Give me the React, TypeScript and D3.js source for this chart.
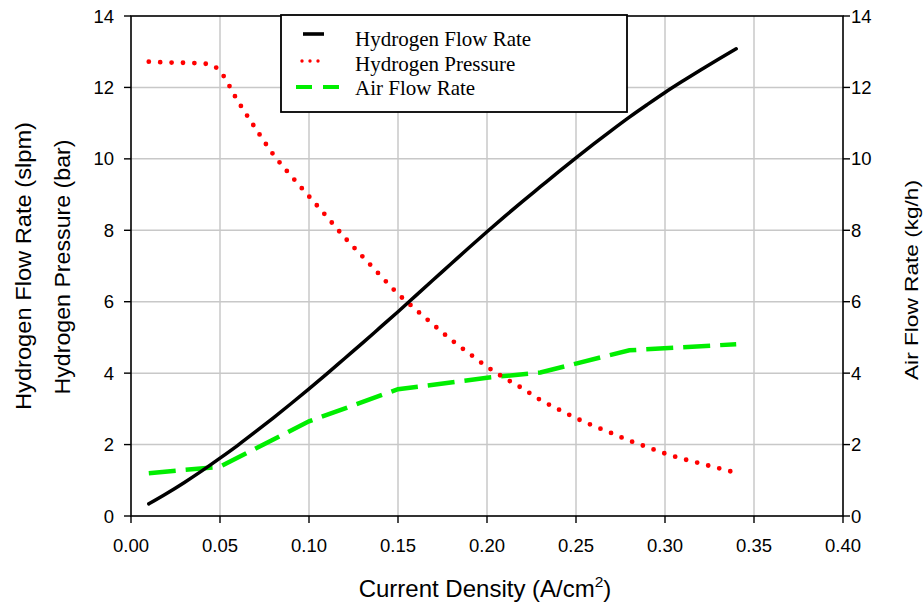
import React from "react";
import * as d3 from "d3";

const xTicks = [0, 0.05, 0.1, 0.15, 0.2, 0.25, 0.3, 0.35, 0.4];
const yTicks = [0, 2, 4, 6, 8, 10, 12, 14];

const h2FlowX = [0.01,0.02,0.03,0.04,0.05,0.06,0.07,0.08,0.09,0.10,0.11,0.12,0.13,0.14,0.15,0.16,0.17,0.18,0.19,0.20,0.21,0.22,0.23,0.24,0.25,0.26,0.27,0.28,0.29,0.30,0.31,0.32,0.33,0.34];
const h2FlowY = [0.34,0.63,0.94,1.27,1.62,1.98,2.36,2.75,3.15,3.56,3.98,4.41,4.84,5.28,5.72,6.17,6.62,7.07,7.52,7.96,8.39,8.81,9.22,9.63,10.03,10.42,10.8,11.17,11.52,11.86,12.18,12.49,12.79,13.08];

const h2PressX = [0.01,0.02,0.03,0.04,0.045,0.05,0.06,0.07,0.08,0.09,0.10,0.11,0.12,0.13,0.14,0.15,0.16,0.17,0.18,0.19,0.20,0.21,0.22,0.23,0.24,0.25,0.26,0.27,0.28,0.29,0.30,0.31,0.32,0.33,0.34];
const h2PressY = [12.72,12.7,12.69,12.67,12.64,12.45,11.62,10.85,10.12,9.52,8.95,8.38,7.8,7.27,6.74,6.22,5.78,5.35,4.93,4.55,4.18,3.86,3.57,3.25,2.99,2.74,2.52,2.32,2.11,1.93,1.75,1.6,1.47,1.34,1.21];

const airFlowX = [0.01, 0.05, 0.10, 0.15, 0.20, 0.23, 0.28, 0.34];
const airFlowY = [1.2, 1.38, 2.65, 3.55, 3.87, 4.02, 4.64, 4.81];

const legendLabels = ["Hydrogen Flow Rate", "Hydrogen Pressure", "Air Flow Rate"];

export default function App() {
  const W = 923, H = 604;
  const L = 131, R = 843, T = 16, B = 516;
  const x = d3.scaleLinear().domain([0, 0.4]).range([L, R]);
  const y = d3.scaleLinear().domain([0, 14]).range([B, T]);
  const y2 = d3.scaleLinear().domain([0, 14]).range([B, T]);

  const line = (xs: number[], ys: number[], sc: any, curve: any = d3.curveLinear) =>
    d3.line<number>().x((_, i) => x(xs[i])).y((d) => sc(d)).curve(curve)(ys) || "";

  const sans = "'Liberation Sans', Arial, sans-serif";
  const serif = "'Liberation Serif', 'Times New Roman', serif";

  return (
    <svg width={W} height={H} style={{ position: "absolute", left: 0, top: 0, background: "#fff" }}>
      <rect x={0} y={0} width={W} height={H} fill="#fff" />
      {/* grid */}
      {xTicks.slice(1, -1).map((t) => (
        <line key={"gx" + t} x1={x(t)} x2={x(t)} y1={T} y2={B} stroke="#c8c8c8" strokeWidth={1.5} />
      ))}
      {yTicks.slice(1, -1).map((t) => (
        <line key={"gy" + t} x1={L} x2={R} y1={y(t)} y2={y(t)} stroke="#c8c8c8" strokeWidth={1.5} />
      ))}
      {/* frame */}
      <rect x={L} y={T} width={R - L} height={B - T} fill="none" stroke="#000" strokeWidth={1.6} />
      {/* x ticks */}
      {xTicks.map((t) => (
        <g key={"xt" + t}>
          <line x1={x(t)} x2={x(t)} y1={B} y2={B + 7} stroke="#000" strokeWidth={1.4} />
          <text x={x(t)} y={552} textAnchor="middle" fontFamily={sans} fontSize={18.5} fill="#000">
            {t.toFixed(2)}
          </text>
        </g>
      ))}
      {/* left ticks */}
      {yTicks.map((t) => (
        <g key={"yt" + t}>
          <line x1={L - 7} x2={L} y1={y(t)} y2={y(t)} stroke="#000" strokeWidth={1.4} />
          <text x={114} y={y(t) + 6.5} textAnchor="end" fontFamily={sans} fontSize={18.5} fill="#000">
            {t}
          </text>
        </g>
      ))}
      {/* right ticks */}
      {yTicks.map((t) => (
        <g key={"yr" + t}>
          <line x1={R} x2={R + 7} y1={y2(t)} y2={y2(t)} stroke="#000" strokeWidth={1.4} />
          <text x={851} y={y2(t) + 6.5} textAnchor="start" fontFamily={sans} fontSize={18.5} fill="#000">
            {t}
          </text>
        </g>
      ))}
      {/* axis titles */}
      <text transform="translate(31,266) rotate(-90)" textAnchor="middle" fontFamily={sans} fontSize={22.5}
        textLength={288} lengthAdjust="spacingAndGlyphs" fill="#000">
        Hydrogen Flow Rate (slpm)
      </text>
      <text transform="translate(70,267) rotate(-90)" textAnchor="middle" fontFamily={sans} fontSize={22.5}
        textLength={255} lengthAdjust="spacingAndGlyphs" fill="#000">
        Hydrogen Pressure (bar)
      </text>
      <text transform="translate(918,280) rotate(-90)" textAnchor="middle" fontFamily={sans} fontSize={19}
        textLength={200} lengthAdjust="spacingAndGlyphs" fill="#000">
        Air Flow Rate (kg/h)
      </text>
      <text x={485} y={597} textAnchor="middle" fontFamily={sans} fontSize={24} fill="#000">
        Current Density (A/cm
        <tspan dy={-10} fontSize={15.5}>2</tspan>
        <tspan dy={10}>)</tspan>
      </text>

      {/* series */}
      <path d={line(airFlowX, airFlowY, y2)} fill="none" stroke="#00ee00" strokeWidth={4.5} strokeDasharray="27 10" />
      <path d={line(h2PressX, h2PressY, y, d3.curveMonotoneX)} fill="none" stroke="#ff0000" strokeWidth={4.8} strokeLinecap="round" strokeDasharray="0 11.4" />
      <path d={line(h2FlowX, h2FlowY, y, d3.curveMonotoneX)} fill="none" stroke="#000" strokeWidth={3.5} strokeLinecap="round" />

      {/* legend */}
      <rect x={281} y={15} width={346} height={97} fill="#fff" stroke="#000" strokeWidth={1.8} />
      <line x1={303} x2={324} y1={34} y2={34} stroke="#000" strokeWidth={3.6} />
      <line x1={302} x2={321} y1={61} y2={61} stroke="#ff0000" strokeWidth={3.4} strokeLinecap="round" strokeDasharray="0 8" />
      <line x1={296} x2={339} y1={87} y2={87} stroke="#00ee00" strokeWidth={4} strokeDasharray="16 11" />
      {legendLabels.map((l, i) => (
        <text key={l} x={355} y={46 + i * 24.6} fontFamily={serif} fontSize={21} fill="#000">
          {l}
        </text>
      ))}
    </svg>
  );
}
